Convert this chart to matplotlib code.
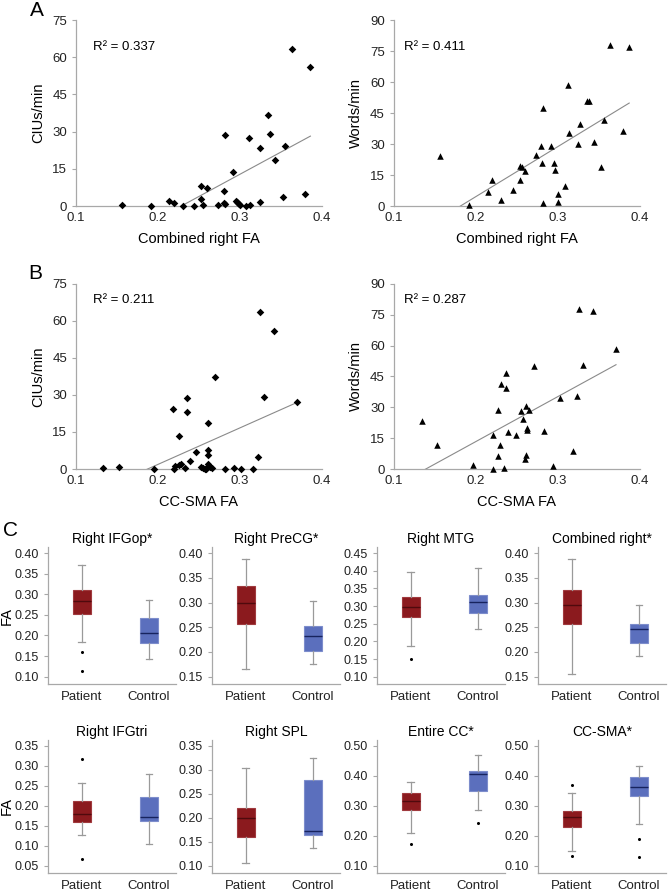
import matplotlib
matplotlib.use("Agg")
import matplotlib.pyplot as plt
import numpy as np

plt.rcParams['font.family'] = ['Liberation Sans', 'DejaVu Sans']

# --- scatter data ---
fa_comb_ciu = [0.156, 0.192, 0.214, 0.219, 0.230, 0.244, 0.253, 0.253, 0.255, 0.260, 0.273,
               0.280, 0.281, 0.282, 0.282, 0.291, 0.295, 0.297, 0.299, 0.300, 0.308, 0.311,
               0.312, 0.325, 0.325, 0.334, 0.337, 0.343, 0.353, 0.355, 0.364, 0.379, 0.386]
ciu_comb = [0.4, 0.0, 2.0, 1.2, 0.1, 0.1, 2.7, 8.1, 0.4, 7.1, 0.3,
            5.9, 1.1, 28.6, 0.8, 13.6, 2.2, 1.6, 0.9, 0.3, 0.0, 27.4,
            0.3, 1.5, 23.3, 36.8, 29.0, 18.7, 3.5, 24.3, 63.3, 5.0, 55.9]

fa_comb_words = [0.156, 0.192, 0.215, 0.220, 0.230, 0.245, 0.254, 0.254, 0.256, 0.260, 0.273,
                 0.280, 0.281, 0.282, 0.282, 0.292, 0.295, 0.297, 0.300, 0.300, 0.309, 0.312,
                 0.313, 0.325, 0.327, 0.335, 0.338, 0.344, 0.353, 0.356, 0.364, 0.380, 0.387]
words_comb = [24.0, 0.6, 7.0, 12.5, 2.8, 7.8, 12.5, 19.6, 19.1, 17.0, 24.9,
              28.8, 21.0, 47.2, 1.3, 28.8, 21.0, 17.2, 5.8, 2.1, 9.7, 58.4,
              35.3, 29.8, 39.5, 51.0, 51.0, 31.1, 19.1, 41.7, 77.7, 36.2, 76.7]

fa_sma_ciu = [0.1325, 0.152, 0.195, 0.2195, 0.221, 0.226, 0.228, 0.233, 0.239, 0.226, 0.218,
              0.236, 0.235, 0.247, 0.253, 0.255, 0.258, 0.259, 0.261, 0.262, 0.264, 0.266,
              0.2606, 0.2606, 0.2606, 0.270, 0.282, 0.293, 0.301, 0.316, 0.3224, 0.324, 0.3297,
              0.3415, 0.3695]
ciu_sma = [0.3, 1.0, 0.0, 0.0, 1.2, 1.8, 2.2, 0.6, 3.4, 13.4, 24.5,
           23.3, 28.8, 7.0, 0.8, 0.3, 0.0, 0.0, 2.1, 1.4, 0.8, 0.4,
           7.7, 5.5, 18.7, 37.2, 0.0, 0.3, 0.0, 0.0, 4.9, 63.5, 29.3,
           56.0, 27.3]

fa_sma_words = [0.134, 0.153, 0.196, 0.221, 0.2214, 0.227, 0.2274, 0.2294, 0.230, 0.234, 0.2363,
                0.237, 0.2396, 0.2485, 0.2547, 0.2575, 0.2616, 0.2648, 0.2619, 0.2619, 0.2616,
                0.260, 0.2713, 0.2835, 0.294, 0.3022, 0.318, 0.3232, 0.3253, 0.331, 0.3428, 0.3709]
words_sma = [23.5, 11.9, 2.0, 0.0, 16.6, 28.7, 6.2, 11.9, 41.2, 0.5, 46.8,
             39.3, 18.2, 16.3, 28.2, 24.3, 30.6, 28.9, 20.0, 19.1, 7.0,
             5.0, 50.2, 18.6, 1.3, 34.7, 8.8, 35.7, 77.6, 50.4, 77.0, 58.4]

r2_labels = ["R\u00b2 = 0.337", "R\u00b2 = 0.411", "R\u00b2 = 0.211", "R\u00b2 = 0.287"]

# --- box plot stats (whislo, q1, med, q3, whishi, fliers) ---
box_titles = ["Right IFGop*", "Right PreCG*", "Right MTG", "Combined right*",
              "Right IFGtri", "Right SPL", "Entire CC*", "CC-SMA*"]
groups = ["Patient", "Control"]
patient_stats = [
    (0.185, 0.252, 0.284, 0.311, 0.371, [0.159, 0.114]),
    (0.165, 0.257, 0.299, 0.333, 0.388, []),
    (0.186, 0.268, 0.298, 0.325, 0.397, [0.151]),
    (0.156, 0.256, 0.296, 0.326, 0.388, []),
    (0.128, 0.160, 0.179, 0.212, 0.257, [0.317, 0.066]),
    (0.106, 0.160, 0.200, 0.220, 0.303, []),
    (0.209, 0.285, 0.316, 0.343, 0.378, [0.174]),
    (0.151, 0.230, 0.264, 0.282, 0.342, [0.369, 0.132]),
]
control_stats = [
    (0.144, 0.181, 0.205, 0.243, 0.286, []),
    (0.175, 0.201, 0.233, 0.252, 0.303, []),
    (0.235, 0.280, 0.311, 0.331, 0.408, []),
    (0.191, 0.218, 0.246, 0.256, 0.295, []),
    (0.105, 0.161, 0.173, 0.223, 0.280, []),
    (0.138, 0.164, 0.173, 0.278, 0.325, []),
    (0.287, 0.351, 0.408, 0.417, 0.471, [0.243]),
    (0.240, 0.332, 0.363, 0.397, 0.433, [0.191, 0.131]),
]
y_ticks = [
    np.arange(0.10, 0.401, 0.05), np.arange(0.15, 0.401, 0.05),
    np.arange(0.10, 0.451, 0.05), np.arange(0.15, 0.401, 0.05),
    np.arange(0.05, 0.351, 0.05), np.arange(0.10, 0.351, 0.05),
    np.arange(0.10, 0.501, 0.10), np.arange(0.10, 0.501, 0.10),
]

SPINE = '#a8a8a8'
RED = '#8b1a1e'
RED_MED = '#4f0a0d'
BLUE = '#5b6fbd'
BLUE_MED = '#17235e'

fig = plt.figure(figsize=(6.7, 8.93), dpi=100)


def style_axes(ax):
    for s in ['top', 'right']:
        ax.spines[s].set_visible(False)
    for s in ['left', 'bottom']:
        ax.spines[s].set_color(SPINE)
        ax.spines[s].set_linewidth(0.9)
    ax.tick_params(colors=SPINE, labelcolor='#222222', length=3, width=0.8)


def scatter_panel(rect, x, y, marker, ylab, xlab, ymax, r2, r2y):
    ax = fig.add_axes(rect)
    x = np.array(x)
    y = np.array(y)
    ax.scatter(x, y, marker=marker, s=15 if marker == 'D' else 22, color='black',
               linewidths=0, clip_on=False, zorder=3)
    k, b = np.polyfit(x, y, 1)
    xs = np.array([x.min(), x.max()])
    ax.plot(xs, k * xs + b, color='#8a8a8a', lw=0.8)
    ax.set_xlim(0.1, 0.4)
    ax.set_ylim(0, ymax)
    ax.set_xticks([0.1, 0.2, 0.3, 0.4])
    ax.set_xticklabels(['0.1', '0.2', '0.3', '0.4'])
    ax.set_yticks(np.arange(0, ymax + 1, 15))
    style_axes(ax)
    ax.tick_params(axis='both', labelsize=9.5)
    ax.tick_params(axis='x', length=0, pad=4)
    ax.set_ylabel(ylab, fontsize=10.5, labelpad=5)
    ax.set_xlabel(xlab, fontsize=10.5, labelpad=6)
    ax.text(0.07 if ymax == 75 else 0.04, r2y, r2, transform=ax.transAxes,
            fontsize=9.5, va='center', ha='left')
    return ax


scatter_panel([0.1134, 0.7693, 0.367, 0.2083], fa_comb_ciu, ciu_comb, 'D',
              'CIUs/min', 'Combined right FA', 75, r2_labels[0], 0.855)
scatter_panel([0.588, 0.7693, 0.367, 0.2083], fa_comb_words, words_comb, '^',
              'Words/min', 'Combined right FA', 90, r2_labels[1], 0.855)
scatter_panel([0.1134, 0.4748, 0.367, 0.2072], fa_sma_ciu, ciu_sma, 'D',
              'CIUs/min', 'CC-SMA FA', 75, r2_labels[2], 0.913)
scatter_panel([0.588, 0.4748, 0.367, 0.2072], fa_sma_words, words_sma, '^',
              'Words/min', 'CC-SMA FA', 90, r2_labels[3], 0.913)

fig.text(30 / 670, 1 - 10 / 893, 'A', fontsize=15, ha='left', va='center')
fig.text(28 / 670, 1 - 274 / 893, 'B', fontsize=15, ha='left', va='center')
fig.text(3 / 670, 1 - 531 / 893, 'C', fontsize=15, ha='left', va='center')

lefts = [0.0716, 0.3164, 0.5627, 0.803]
for i in range(8):
    row = i // 4
    col = i % 4
    if row == 0:
        rect = [lefts[col], 0.234, 0.191, 0.1534]
    else:
        rect = [lefts[col], 0.0224, 0.191, 0.149]
    ax = fig.add_axes(rect)
    stats = []
    for st, lab in zip([patient_stats[i], control_stats[i]], groups):
        wl, q1, med, q3, wh, fl = st
        stats.append(dict(whislo=wl, q1=q1, med=med, q3=q3, whishi=wh, fliers=fl, label=lab))
    bp = ax.bxp(stats, positions=[1, 2], widths=0.27, patch_artist=True,
                capwidths=0.1, showfliers=True,
                whiskerprops=dict(color='#9a9a9a', lw=0.9),
                capprops=dict(color='#9a9a9a', lw=0.9),
                flierprops=dict(marker='o', markersize=1.2, markerfacecolor='black',
                                markeredgecolor='black'))
    for patch, fc, ec in zip(bp['boxes'], [RED, BLUE], ['#a03a3e', '#7d8dcc']):
        patch.set_facecolor(fc)
        patch.set_edgecolor(ec)
        patch.set_linewidth(0.8)
    for med, mc in zip(bp['medians'], [RED_MED, BLUE_MED]):
        med.set_color(mc)
        med.set_linewidth(1.0)
    ticks = y_ticks[i]
    rng = ticks[-1] - ticks[0]
    ax.set_ylim(ticks[0] - 0.06 * rng, ticks[-1] + 0.05 * rng)
    ax.set_yticks(ticks)
    ax.set_yticklabels(['%.2f' % t for t in ticks])
    ax.set_xlim(0.5, 2.4)
    style_axes(ax)
    ax.tick_params(axis='y', labelsize=9, length=3)
    ax.tick_params(axis='x', labelsize=9.5, length=0, pad=5)
    ax.set_title(box_titles[i], fontsize=10, pad=3)
    if col == 0:
        ax.set_ylabel('FA', fontsize=10.5)
        ax.yaxis.set_label_coords(-0.265, 0.5)

fig.savefig('out.png', dpi=100)
